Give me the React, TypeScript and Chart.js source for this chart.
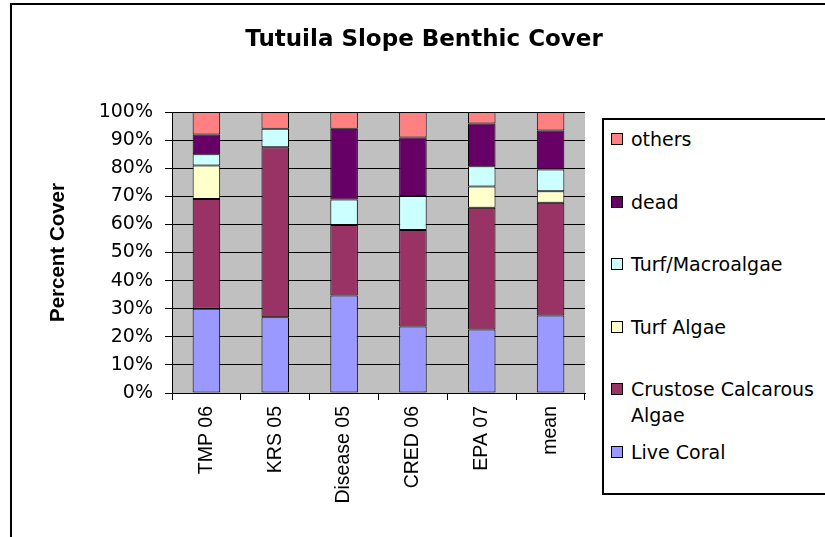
import React, { useEffect, useRef } from "react";
import { Chart, registerables } from "chart.js";

Chart.register(...registerables);

const chartTitle = "Tutuila Slope Benthic Cover";
const yAxisTitle = "Percent Cover";
const categories = ["TMP 06", "KRS 05", "Disease 05", "CRED 06", "EPA 07", "mean"];

const liveCoral = [30, 27, 34.7, 23.7, 22.6, 27.6];
const crustoseCalcarousAlgae = [39, 60.5, 25.1, 34.3, 43.3, 40.1];
const turfAlgae = [12, 0, 0, 0, 7.6, 4.1];
const turfMacroalgae = [4, 6.5, 9.1, 12.1, 7.2, 7.7];
const dead = [7, 0, 25.1, 20.8, 15.2, 13.9];
const others = [8, 6, 6, 9.1, 4.1, 6.6];

const seriesNames = ["Live Coral", "Crustose Calcarous Algae", "Turf Algae", "Turf/Macroalgae", "dead", "others"];
const seriesValues = [liveCoral, crustoseCalcarousAlgae, turfAlgae, turfMacroalgae, dead, others];
const seriesColors = ["#9999FF", "#993366", "#FFFFCC", "#CCFFFF", "#660066", "#FF8080"];

const yMin = 0;
const yMax = 100;
const yStep = 10;

const plotBackground = {
  id: "plotBackground",
  beforeDraw(chart: any) {
    const { ctx, chartArea: a } = chart;
    ctx.save();
    ctx.fillStyle = "#C0C0C0";
    ctx.fillRect(a.left, a.top, a.right - a.left, a.bottom - a.top);
    ctx.restore();
  },
};

export default function App() {
  const canvasRef = useRef<HTMLCanvasElement | null>(null);

  useEffect(() => {
    const canvas = canvasRef.current;
    if (!canvas) return;
    const chart = new Chart(canvas, {
      type: "bar",
      data: {
        labels: categories,
        datasets: seriesNames.map((name, i) => ({
          label: name,
          data: seriesValues[i],
          backgroundColor: seriesColors[i],
          borderColor: "#000000",
          borderWidth: 1,
          borderSkipped: false,
          barPercentage: 0.4,
          categoryPercentage: 1,
        })),
      },
      options: {
        responsive: false,
        animation: false,
        devicePixelRatio: 1,
        layout: { padding: { left: 0, top: 112, right: 240, bottom: 0 } },
        plugins: {
          legend: { display: false },
          title: { display: false },
          tooltip: { enabled: false },
        },
        scales: {
          x: {
            stacked: true,
            afterFit: (s: any) => {
              s.height = 144;
            },
            grid: {
              offset: true,
              drawOnChartArea: false,
              drawTicks: true,
              tickLength: 7,
              color: "#000000",
            },
            border: { color: "#000000", width: 1 },
            ticks: {
              minRotation: 90,
              maxRotation: 90,
              autoSkip: false,
              padding: 6,
              color: "#000000",
              font: { family: "'Liberation Sans', Arial, sans-serif", size: 19.5 },
            },
          },
          y: {
            stacked: true,
            min: yMin,
            max: yMax,
            afterFit: (s: any) => {
              s.width = 172;
            },
            grid: {
              color: "#000000",
              lineWidth: 1,
              drawTicks: true,
              tickLength: 7,
            },
            border: { color: "#000000", width: 1 },
            ticks: {
              stepSize: yStep,
              padding: 12,
              color: "#000000",
              font: { family: "'DejaVu Sans', sans-serif", size: 19 },
              callback: (v: any) => v + "%",
            },
            title: {
              display: true,
              text: yAxisTitle,
              color: "#000000",
              padding: { top: 46, bottom: 0 },
              font: { family: "'Liberation Sans', Arial, sans-serif", size: 20.5, weight: "bold" },
            },
          },
        },
      },
      plugins: [plotBackground],
    } as any);
    return () => chart.destroy();
  }, []);

  const legendItems = seriesNames.map((n, i) => ({ name: n, color: seriesColors[i] })).reverse();

  return (
    <div
      style={{
        position: "fixed",
        left: 0,
        top: 0,
        width: 825,
        height: 537,
        overflow: "hidden",
        background: "#ffffff",
      }}
    >
      <div
        style={{
          position: "absolute",
          left: 10,
          top: 3,
          width: 900,
          height: 700,
          border: "2px solid #000",
          boxSizing: "border-box",
        }}
      />
      <canvas
        ref={canvasRef}
        width={825}
        height={537}
        style={{ position: "absolute", left: 0, top: 0, width: 825, height: 537 }}
      />
      <div
        style={{
          position: "absolute",
          left: 0,
          top: 24,
          width: 848,
          textAlign: "center",
          fontFamily: "'DejaVu Sans', sans-serif",
          fontWeight: "bold",
          fontSize: 23,
          lineHeight: "28px",
          color: "#000",
          whiteSpace: "nowrap",
        }}
      >
        {chartTitle}
      </div>
      <div
        style={{
          position: "absolute",
          left: 602,
          top: 118,
          width: 300,
          height: 377,
          border: "2px solid #000",
          boxSizing: "border-box",
          background: "#fff",
        }}
      >
        {legendItems.map((it, i) => (
          <div
            key={it.name}
            style={{
              position: "absolute",
              left: 7,
              top: 139 - 118 - 2 - 13 + i * 62.6,
              display: "flex",
              alignItems: "flex-start",
            }}
          >
            <div
              style={{
                width: 12,
                height: 12,
                marginTop: 7,
                background: it.color,
                border: "1px solid #000",
                boxSizing: "border-box",
                flex: "none",
              }}
            />
            <div
              style={{
                marginLeft: 8,
                width: 195,
                fontFamily: "'DejaVu Sans', sans-serif",
                fontSize: 19,
                lineHeight: "26px",
                color: "#000",
              }}
            >
              {it.name}
            </div>
          </div>
        ))}
      </div>
    </div>
  );
}
